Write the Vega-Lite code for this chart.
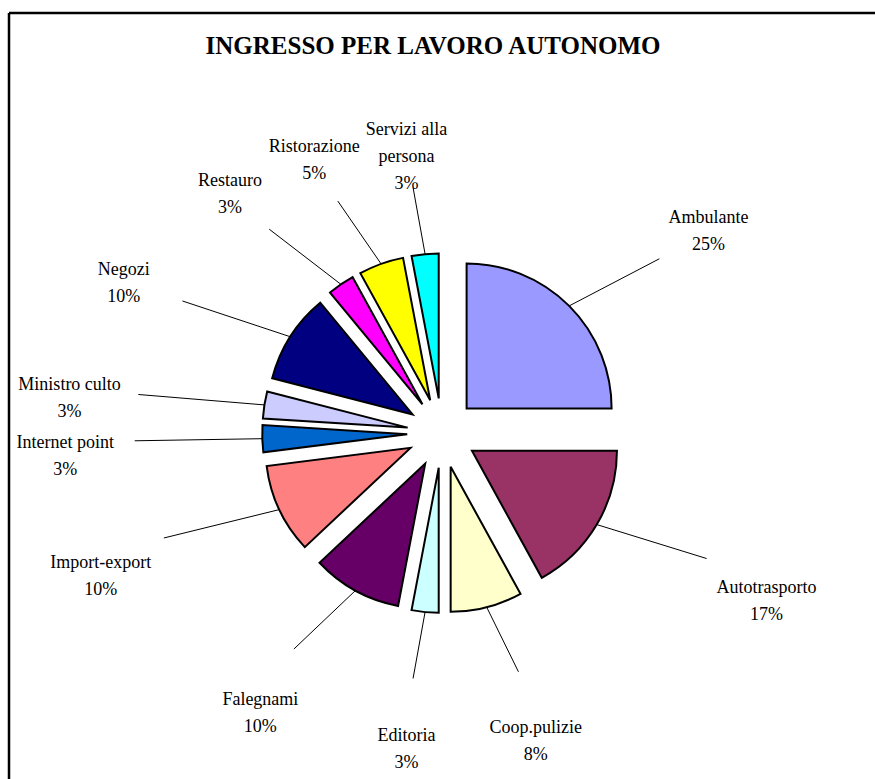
{
  "$schema": "https://vega.github.io/schema/vega-lite/v6.json",
  "width": 866,
  "height": 766,
  "autosize": {"type": "none"},
  "padding": {"left": 9, "top": 13, "right": 0, "bottom": 0},
  "background": "white",
  "config": {
    "view": {"stroke": "black", "strokeWidth": 2.5, "strokeDash": [866, 1632, 766, 0]},
    "font": "Liberation Serif"
  },
  "title": {
    "text": "INGRESSO PER LAVORO AUTONOMO",
    "font": "Liberation Serif",
    "fontSize": 25,
    "fontWeight": "bold",
    "color": "black",
    "anchor": "middle",
    "frame": "group",
    "orient": "top",
    "baseline": "alphabetic",
    "offset": -66,
    "dx": -9
  },
  "data": {
    "values": [
      {"categoria": "Ambulante", "valore": 25},
      {"categoria": "Autotrasporto", "valore": 17},
      {"categoria": "Coop.pulizie", "valore": 8},
      {"categoria": "Editoria", "valore": 3},
      {"categoria": "Falegnami", "valore": 10},
      {"categoria": "Import-export", "valore": 10},
      {"categoria": "Internet point", "valore": 3},
      {"categoria": "Ministro culto", "valore": 3},
      {"categoria": "Negozi", "valore": 10},
      {"categoria": "Restauro", "valore": 3},
      {"categoria": "Ristorazione", "valore": 5},
      {"categoria": "Servizi alla persona", "valore": 3}
    ]
  },
  "transform": [
    {"joinaggregate": [{"op": "sum", "field": "valore", "as": "totale"}]},
    {"window": [{"op": "sum", "field": "valore", "as": "fine"}], "frame": [null, 0]},
    {"calculate": "datum.fine - datum.valore", "as": "inizio"},
    {"calculate": "PI * (datum.inizio + datum.fine) / datum.totale", "as": "mid"},
    {"calculate": "0.24 * sin(datum.mid)", "as": "cx"},
    {"calculate": "0.24 * cos(datum.mid)", "as": "cy"},
    {"calculate": "2.6 * sin(datum.mid)", "as": "lx"},
    {"calculate": "2.1 * cos(datum.mid)", "as": "ly"},
    {"calculate": "1.24 * sin(datum.mid)", "as": "ax"},
    {"calculate": "1.24 * cos(datum.mid)", "as": "ay"},
    {"calculate": "2.12 * sin(datum.mid)", "as": "bx"},
    {"calculate": "1.7 * cos(datum.mid)", "as": "by"},
    {"calculate": "(length(datum.categoria) > 16 ? substring(datum.categoria, 0, lastindexof(datum.categoria, ' ')) + '\\n' + substring(datum.categoria, lastindexof(datum.categoria, ' ') + 1) : datum.categoria) + '\\n' + format(datum.valore / datum.totale, '.0%')", "as": "etichetta"}
  ],
  "layer": [
    {
      "mark": {"type": "rule", "color": "black", "strokeWidth": 1},
      "encoding": {
        "x": {"field": "ax", "type": "quantitative", "scale": {"domain": [-2.986, 2.986], "nice": false, "zero": false}, "axis": null},
        "y": {"field": "ay", "type": "quantitative", "scale": {"domain": [-2.386, 2.897], "nice": false, "zero": false}, "axis": null},
        "x2": {"field": "bx"},
        "y2": {"field": "by"}
      }
    },
    {
      "mark": {"type": "arc", "outerRadius": 145, "stroke": "black", "strokeWidth": 2, "strokeJoin": "miter"},
      "encoding": {
        "theta": {"field": "inizio", "type": "quantitative", "scale": {"domain": [0, 100]}, "stack": null},
        "theta2": {"field": "fine"},
        "x": {"field": "cx", "type": "quantitative", "scale": {"domain": [-2.986, 2.986], "nice": false, "zero": false}, "axis": null},
        "y": {"field": "cy", "type": "quantitative", "scale": {"domain": [-2.386, 2.897], "nice": false, "zero": false}, "axis": null},
        "color": {
          "field": "categoria",
          "type": "nominal",
          "legend": null,
          "scale": {
            "domain": ["Ambulante", "Autotrasporto", "Coop.pulizie", "Editoria", "Falegnami", "Import-export", "Internet point", "Ministro culto", "Negozi", "Restauro", "Ristorazione", "Servizi alla persona"],
            "range": ["#9999FF", "#993366", "#FFFFCC", "#CCFFFF", "#660066", "#FF8080", "#0066CC", "#CCCCFF", "#000080", "#FF00FF", "#FFFF00", "#00FFFF"]
          }
        }
      }
    },
    {
      "mark": {"type": "text", "font": "Liberation Serif", "fontSize": 18, "lineBreak": "\n", "lineHeight": 27, "align": "center", "baseline": "middle", "color": "black"},
      "encoding": {
        "x": {"field": "lx", "type": "quantitative", "scale": {"domain": [-2.986, 2.986], "nice": false, "zero": false}, "axis": null},
        "y": {"field": "ly", "type": "quantitative", "scale": {"domain": [-2.386, 2.897], "nice": false, "zero": false}, "axis": null},
        "text": {"field": "etichetta", "type": "nominal"}
      }
    }
  ]
}
